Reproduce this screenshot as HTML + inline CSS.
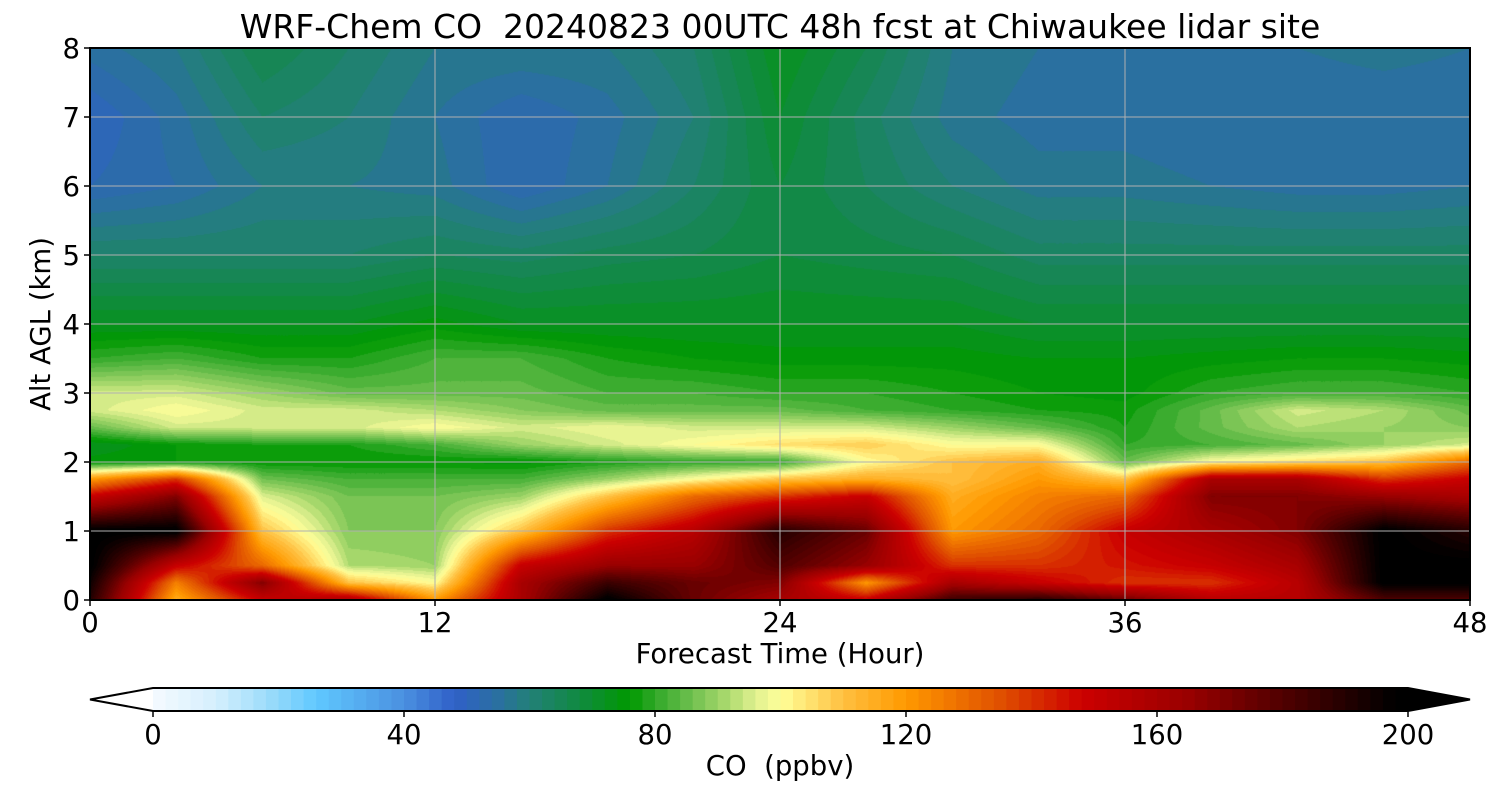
<!DOCTYPE html>
<html><head><meta charset="utf-8">
<style>
body{margin:0;background:#fff;font-family:"DejaVu Sans","Liberation Sans",sans-serif;}
#wrap{position:relative;width:1500px;height:800px;overflow:hidden;}
.t{position:absolute;color:#000;white-space:nowrap;}
</style></head><body>
<div id="wrap">
<div class="t" style="left:780px;transform:translateX(-50%);top:7px;font-size:33px;">WRF-Chem CO&nbsp; 20240823 00UTC 48h fcst at Chiwaukee lidar site</div>
<canvas id="plot" width="1380" height="552" style="position:absolute;left:90px;top:48px;"></canvas>
<svg id="ov" width="1500" height="800" style="position:absolute;left:0;top:0;"></svg>
<div class="t" style="left:780px;transform:translateX(-50%);top:638px;font-size:27.5px;">Forecast Time (Hour)</div>
<div class="t" style="left:41px;top:324px;transform:translate(-50%,-50%) rotate(-90deg);font-size:27.5px;">Alt AGL (km)</div>
<div class="t" style="left:780px;transform:translateX(-50%);top:750px;font-size:27.5px;">CO&nbsp; (ppbv)</div>
</div>
<script>
const times=[0,3,6,9,12,15,18,21,24,27,30,33,36,39,42,45,48];
const alts=[0,0.25,0.5,1,1.5,1.75,2,2.25,2.5,2.75,3,3.5,4,5,6,7,8];
const co=[
[190,195,200,200,150,120,75,72,85,95,95,80,72,62,52,50,55],
[115,125,150,200,170,140,76,76,95,100,95,82,72,62,54,55,58],
[150,170,130,110,96,86,76,78,95,95,90,78,72,62,58,62,66],
[160,110,92,88,86,82,76,78,95,95,85,78,72,62,58,60,62],
[120,100,90,88,86,82,76,82,100,92,85,82,75,64,57,56,58],
[160,160,150,110,90,82,75,90,95,88,85,82,72,63,52,52,58],
[200,185,165,140,110,90,78,95,98,85,82,78,72,65,56,55,58],
[175,175,165,155,130,100,80,100,95,85,82,76,72,66,62,60,62],
[160,170,180,190,140,110,80,105,95,85,80,75,72,68,68,70,72],
[150,120,165,175,150,115,100,108,95,82,80,75,72,67,64,63,66],
[185,160,140,120,115,110,110,100,90,80,78,75,72,66,60,57,58],
[190,150,140,130,125,120,115,100,85,78,76,74,70,63,57,55,56],
[175,140,145,150,130,110,85,80,78,77,75,74,70,63,57,55,56],
[155,140,150,160,170,160,100,82,85,85,80,75,70,63,56,54,56],
[155,155,160,170,170,160,105,85,92,95,82,76,70,63,55,54,56],
[180,200,200,200,165,140,110,90,90,92,82,76,70,63,55,54,57],
[180,200,200,190,160,150,130,95,88,85,80,75,70,63,56,54,56]];
const xTicks=[0,12,24,36,48];
const yTicks=[0,1,2,3,4,5,6,7,8];
const cbTicks=[0,40,80,120,160,200];
const stops=[[0,'#f5faff'],[10,'#d5effd'],[20,'#90d8fa'],[26,'#60c8ff'],[40,'#4a90e0'],[48,'#3060c8'],[55,'#2a70a0'],[60,'#228078'],[68,'#108a40'],[76,'#009900'],[80,'#30a828'],[86,'#70c050'],[92,'#b0dc70'],[96,'#e0f090'],[100,'#ffff99'],[110,'#ffc040'],[120,'#ff9900'],[135,'#e05000'],[148,'#cc0000'],[165,'#990000'],[180,'#500000'],[198,'#000000']];
function hex(h){return [1,3,5].map(i=>parseInt(h.substr(i,2),16));}
function cmap(v){v=Math.max(0,Math.min(199,v));v=Math.floor(v/2)*2+1;
 for(let i=0;i<stops.length-1;i++){if(v<=stops[i+1][0]){const a=hex(stops[i][1]),b=hex(stops[i+1][1]),f=(v-stops[i][0])/(stops[i+1][0]-stops[i][0]);return a.map((c,k)=>Math.round(c+(b[k]-c)*f));}}
 return [0,0,0];}
const X0=90,X1=1470,Y0=48,Y1=600;
const xs=t=>X0+(t-0)/48*(X1-X0), ys=a=>Y1-a/8*(Y1-Y0);
function seg(arr,v){for(let i=0;i<arr.length-1;i++)if(v<=arr[i+1])return [i,(v-arr[i])/(arr[i+1]-arr[i])];return [arr.length-2,1];}
const cv=document.getElementById('plot'),ctx=cv.getContext('2d');
const img=ctx.createImageData(1380,552);
for(let py=0;py<552;py++){const a=(552-py-0.5)/552*8;const [j,fy]=seg(alts,a);
 for(let px=0;px<1380;px++){const t=(px+0.5)/1380*48;const [i,fx]=seg(times,t);
  const v=co[i][j]*(1-fx)*(1-fy)+co[i+1][j]*fx*(1-fy)+co[i][j+1]*(1-fx)*fy+co[i+1][j+1]*fx*fy;
  const c=cmap(v),k=(py*1380+px)*4;img.data[k]=c[0];img.data[k+1]=c[1];img.data[k+2]=c[2];img.data[k+3]=255;}}
ctx.putImageData(img,0,0);
const NS='http://www.w3.org/2000/svg',ov=document.getElementById('ov');
const FF='DejaVu Sans, Liberation Sans, sans-serif';
function mk(tag,at){const e=document.createElementNS(NS,tag);for(const k in at)e.setAttribute(k,at[k]);ov.appendChild(e);return e;}
xTicks.forEach(t=>{const g=mk('line',{x1:xs(t),x2:xs(t),y1:Y0,y2:Y1,stroke:'#b0b0b0','stroke-width':1});


const tk=mk('line',{x1:xs(t),x2:xs(t),y1:Y1,y2:Y1+6,stroke:'#000','stroke-width':1.5});


const l=mk('text',{x:xs(t),y:Y1+32,'text-anchor':'middle','font-size':27.5,'font-family':FF});l.textContent=t;

});
yTicks.forEach(a=>{const g=mk('line',{x1:X0,x2:X1,y1:ys(a),y2:ys(a),stroke:'#b0b0b0','stroke-width':1});


const tk=mk('line',{x1:X0-6,x2:X0,y1:ys(a),y2:ys(a),stroke:'#000','stroke-width':1.5});


const l=mk('text',{x:X0-10,y:ys(a)+10,'text-anchor':'end','font-size':27.5,'font-family':FF});l.textContent=a;

});
const fr=mk('rect',{x:X0,y:Y0,width:X1-X0,height:Y1-Y0,fill:'none',stroke:'#000','stroke-width':2});


const C0=153,C1=1408,CT=688,CB=711,cx=v=>C0+v/200*(C1-C0);
for(let v=0;v<200;v+=2){const c=cmap(v);const r=mk('rect',{x:cx(v),y:CT,width:cx(v+2)-cx(v)+0.6,height:CB-CT,fill:'rgb('+c.join(',')+')'});

}
const lt=mk('polygon',{points:`${C0},${CT} 90,${(CT+CB)/2} ${C0},${CB}`,fill:'#fff',stroke:'none'});


const rt=mk('polygon',{points:`${C1},${CT} 1470,${(CT+CB)/2} ${C1},${CB}`,fill:'#000'});


const ol=mk('polygon',{points:`${C0},${CT} ${C1},${CT} 1470,${(CT+CB)/2} ${C1},${CB} ${C0},${CB} 90,${(CT+CB)/2}`,fill:'none',stroke:'#000','stroke-width':2});


cbTicks.forEach(v=>{const tk=mk('line',{x1:cx(v),x2:cx(v),y1:CB,y2:CB+6,stroke:'#000','stroke-width':1.5});


const l=mk('text',{x:cx(v),y:CB+33,'text-anchor':'middle','font-size':27.5,'font-family':FF});l.textContent=v;

});
</script>
</body></html>
